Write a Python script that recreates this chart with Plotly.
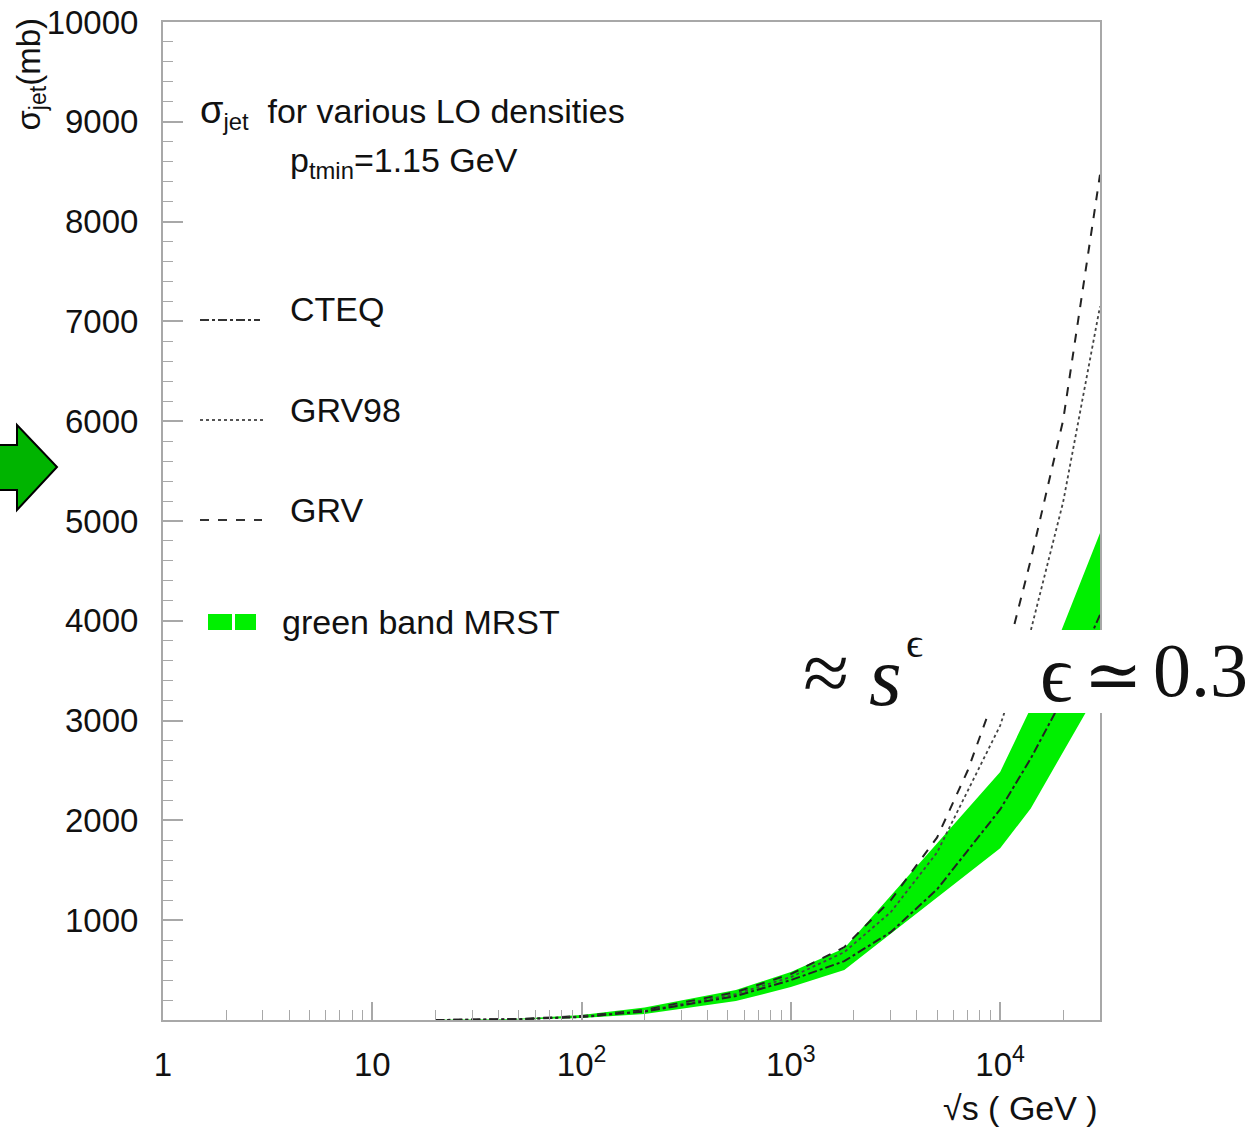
import plotly.graph_objects as go

# ---------------- data ----------------
sqrt_s = [20, 50, 100, 200, 546, 1000, 1800, 3000, 5000, 7000, 10000, 14000, 20000, 30000]
grv    = [0, 10, 40, 100, 280, 460, 730, 1200, 1830, 2500, 3400, 4610, 6010, 8470]
grv98  = [0, 8, 35, 90, 260, 430, 680, 1080, 1680, 2300, 2950, 3900, 5190, 7150]
cteq   = [0, 8, 30, 85, 240, 400, 590, 880, 1310, 1700, 2110, 2620, 3230, 4060]

band_s     = [20, 50, 100, 200, 546, 1000, 1800, 10000, 14000, 30000]
band_upper = [2, 12, 50, 125, 300, 480, 720, 2485, 3126, 4880]
band_lower = [0, 4, 20, 60, 190, 330, 500, 1720, 2120, 3330]

y_ticks = [1000, 2000, 3000, 4000, 5000, 6000, 7000, 8000, 9000, 10000]
y_ticktext = [str(v) for v in y_ticks]
x_ticks = [1, 10, 100, 1000, 10000]
x_ticktext = ["1", "10", "10<sup>2</sup>", "10<sup>3</sup>", "10<sup>4</sup>"]
x_minor = [m * 10 ** d for d in range(0, 5) for m in range(2, 10) if m * 10 ** d <= 30000]

# ---------------- geometry ----------------
W, H = 1259, 1127
L, R, T, B = 163, 1100, 22, 1020


def px(x):
    return (x - L) / (R - L)


def py(y):
    return (B - y) / (B - T)


SANS = "Liberation Sans, Arial, Helvetica, sans-serif"
SERIF = "Liberation Serif, DejaVu Serif, serif"
FRAME = "#a8a8a8"

fig = go.Figure()

# green band
fig.add_trace(go.Scatter(
    x=band_s + band_s[::-1], y=band_upper + band_lower[::-1],
    fill="toself", fillcolor="#00f000", line=dict(width=0),
    mode="lines", hoverinfo="skip", showlegend=False))

fig.add_trace(go.Scatter(x=sqrt_s, y=grv, mode="lines",
                         line=dict(color="#222", width=2, dash="dash"), showlegend=False))
fig.add_trace(go.Scatter(x=sqrt_s, y=grv98, mode="lines",
                         line=dict(color="#444", width=1.8, dash="dot"), showlegend=False))
fig.add_trace(go.Scatter(x=sqrt_s, y=cteq, mode="lines",
                         line=dict(color="#222", width=2, dash="dashdot"), showlegend=False))

shapes = []
# legend samples
shapes.append(dict(type="line", xref="paper", yref="paper", x0=px(200), x1=px(260), y0=py(320), y1=py(320),
                   line=dict(color="#333", width=2, dash="dashdot")))
shapes.append(dict(type="line", xref="paper", yref="paper", x0=px(200), x1=px(263), y0=py(420), y1=py(420),
                   line=dict(color="#555", width=1.8, dash="dot")))
shapes.append(dict(type="line", xref="paper", yref="paper", x0=px(200), x1=px(262), y0=py(520), y1=py(520),
                   line=dict(color="#333", width=2, dash="dash")))
shapes.append(dict(type="rect", xref="paper", yref="paper", x0=px(208), x1=px(232), y0=py(630), y1=py(614),
                   fillcolor="#00f000", line=dict(width=0)))
shapes.append(dict(type="rect", xref="paper", yref="paper", x0=px(235), x1=px(256), y0=py(630), y1=py(614),
                   fillcolor="#00f000", line=dict(width=0)))
# white box carrying the formula
shapes.append(dict(type="rect", xref="paper", yref="paper", x0=px(800), x1=px(1250), y0=py(713), y1=py(630),
                   fillcolor="white", line=dict(width=0), layer="above"))
# green arrow at left
arrow_pts = [(-2, 445), (17, 445), (17, 425), (57, 467), (17, 510), (17, 490), (-2, 490)]
path = "M " + " L ".join(f"{px(a):.5f},{py(b):.5f}" for a, b in arrow_pts) + " Z"
shapes.append(dict(type="path", xref="paper", yref="paper", path=path,
                   fillcolor="#00b400", line=dict(color="black", width=2)))

ann = []


def text(x, y, s, size=30, anchor="left", font=SANS, **kw):
    ann.append(dict(x=px(x), y=py(y), xref="paper", yref="paper", text=s, showarrow=False,
                    xanchor=anchor, yanchor="middle", font=dict(family=font, size=size, color="#111"), **kw))


text(198, 112, "<span style='font-size:38px'>σ</span><sub>jet</sub>  for various LO densities", 34)
text(288, 163, "p<sub>tmin</sub>=1.15 GeV", 34)
text(288, 309, "CTEQ", 34)
text(288, 410, "GRV98", 34)
text(288, 510, "GRV", 34)
text(280, 622, "green band MRST", 34)
text(1100, 1108, "√s ( GeV )", 34, anchor="right")

# formula text
text(826, 672, "≈", 84, anchor="center", font=SERIF)
text(885, 676, "<i>s</i>", 84, anchor="center", font=SERIF)
text(914, 643, "ϵ", 42, anchor="center", font=SERIF)
text(1056, 674, "ϵ", 80, anchor="center", font=SERIF)
text(1113, 675, "≃", 70, anchor="center", font=SERIF)
text(1200, 670, "0.3", 76, anchor="center", font=SERIF)

# y axis title (rotated)
ann.append(dict(x=px(30), y=py(16), xref="paper", yref="paper", text="σ<sub>jet</sub>(mb)", showarrow=False,
                xanchor="center", yanchor="top", textangle=-90,
                font=dict(family=SANS, size=33, color="#111")))

fig.update_layout(
    width=W, height=H,
    margin=dict(l=L, r=W - R, t=T, b=H - B, autoexpand=False),
    paper_bgcolor="white", plot_bgcolor="white",
    shapes=shapes, annotations=ann, showlegend=False,
    xaxis=dict(type="log", range=[0, 4.4771], showgrid=False, zeroline=False, automargin=False,
               showline=True, linecolor=FRAME, linewidth=2, mirror=True,
               ticks="inside", ticklen=18, tickcolor=FRAME, tickwidth=1.5,
               tickmode="array", tickvals=x_ticks, ticktext=x_ticktext,
               ticklabelstandoff=14,
               minor=dict(ticks="inside", ticklen=10, tickcolor=FRAME, tickwidth=1.2,
                          tickmode="array", tickvals=x_minor),
               tickfont=dict(family=SANS, size=33, color="#111")),
    yaxis=dict(range=[0, 10000], showgrid=False, zeroline=False, automargin=False,
               showline=True, linecolor=FRAME, linewidth=2, mirror=True,
               ticks="inside", ticklen=20, tickcolor=FRAME, tickwidth=1.5,
               tickmode="array", tickvals=y_ticks, ticktext=y_ticktext,
               ticklabelstandoff=16,
               minor=dict(ticks="inside", ticklen=10, tickcolor=FRAME, tickwidth=1.2, dtick=200, tick0=0),
               tickfont=dict(family=SANS, size=33, color="#111")),
)

fig.write_html("out.html")
